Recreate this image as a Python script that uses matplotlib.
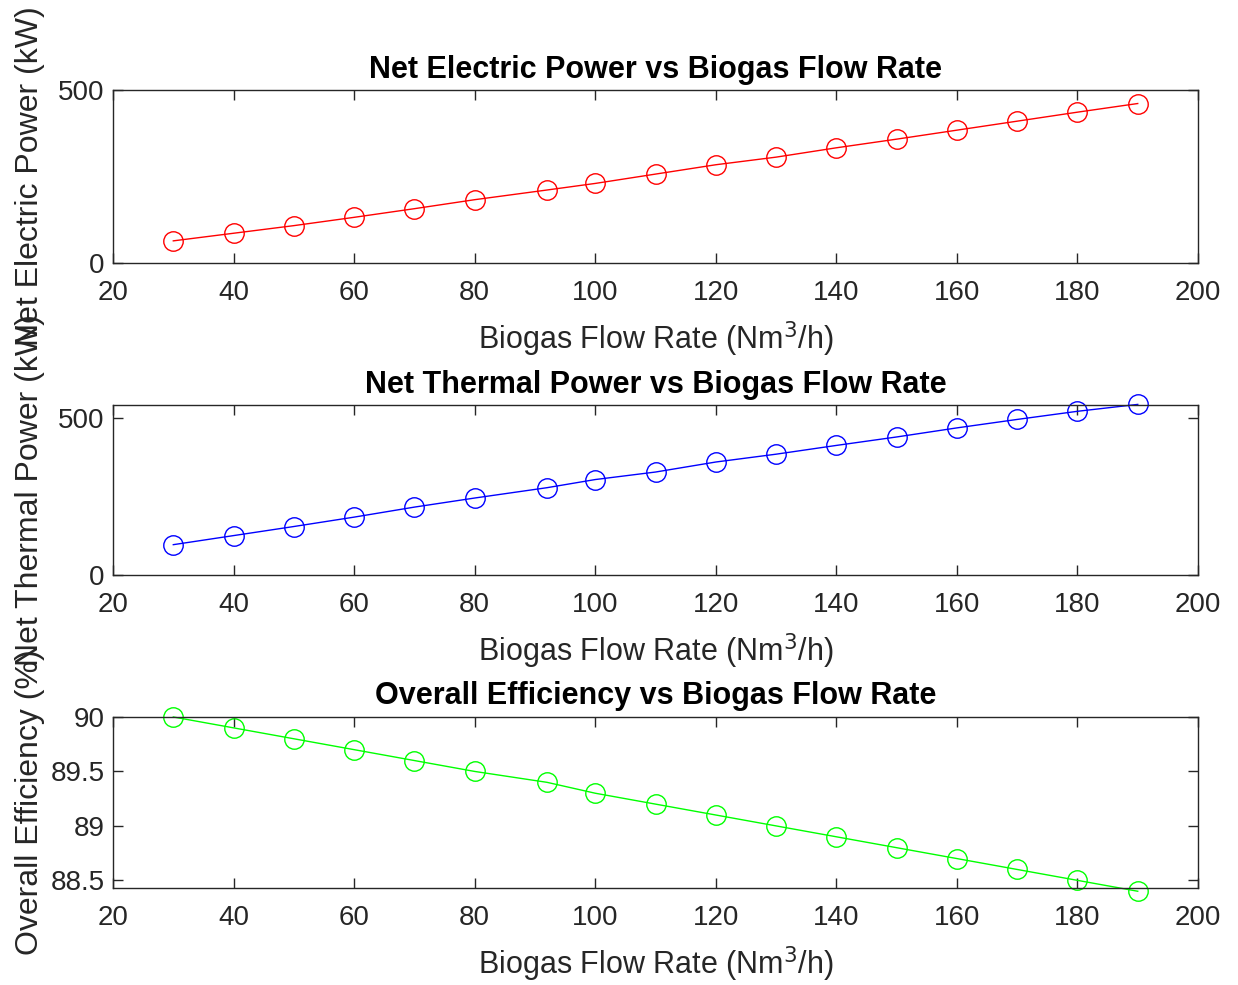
import matplotlib.pyplot as plt

plt.rcParams["font.family"] = ["Liberation Sans", "DejaVu Sans"]

flow_rate = [30, 40, 50, 60, 70, 80, 92, 100, 110, 120, 130, 140, 150, 160, 170, 180, 190]
electric_power = [64, 86, 108, 132, 157, 183, 211, 230, 257, 284, 306, 333, 358, 384, 410, 436, 461]
thermal_power = [97, 126, 155, 185, 217, 246, 279, 305, 329, 361, 386, 414, 441, 470, 497, 523, 545]
efficiency = [90.0, 89.9, 89.8, 89.7, 89.6, 89.5, 89.4, 89.3, 89.2, 89.1, 89.0, 88.9, 88.8, 88.7, 88.6, 88.5, 88.4]

xlabel = "Biogas Flow Rate (Nm$^3$/h)"
panels = [
    (electric_power, "r", "Net Electric Power vs Biogas Flow Rate", "Net Electric Power (kW)", (0, 500), [0, 500]),
    (thermal_power, "b", "Net Thermal Power vs Biogas Flow Rate", "Net Thermal Power (kW)", (0, 543), [0, 500]),
    (efficiency, "#00ff00", "Overall Efficiency vs Biogas Flow Rate", "Overall Efficiency (%)", (88.43, 90),
     [88.5, 89, 89.5, 90]),
]

fig = plt.figure(figsize=(12.38, 9.85), dpi=100)
bottoms = [0.733, 0.4162, 0.0985]
heights = [0.1756, 0.1726, 0.1736]
ink = "#262626"

for (vals, color, title, ylabel, ylim, yticks), b, h in zip(panels, bottoms, heights):
    ax = fig.add_axes([0.0913, b, 0.8764, h])
    ax.plot(flow_rate, vals, color=color, linewidth=1, marker="o", markersize=14,
            markerfacecolor="none", markeredgewidth=1, clip_on=False)
    ax.set_xlim(20, 200)
    ax.set_ylim(*ylim)
    ax.set_xticks(range(20, 201, 20))
    ax.set_yticks(yticks)
    ax.set_yticklabels([f"{t:g}" for t in yticks])
    ax.tick_params(direction="in", top=True, right=True, length=7, width=1,
                   labelsize=20, colors=ink, labelcolor=ink)
    ax.tick_params(axis="x", pad=12)
    ax.tick_params(axis="y", pad=6)
    for s in ax.spines.values():
        s.set_color(ink)
        s.set_linewidth(1)
    ax.set_title(title, fontsize=22, fontweight="bold", pad=9)
    ax.set_xlabel(xlabel, fontsize=22, color=ink, labelpad=10)
    ax.set_ylabel(ylabel, fontsize=23, color=ink)
    ax.yaxis.set_label_coords(-0.063, 0.5)

fig.savefig("out.png", dpi=100)
